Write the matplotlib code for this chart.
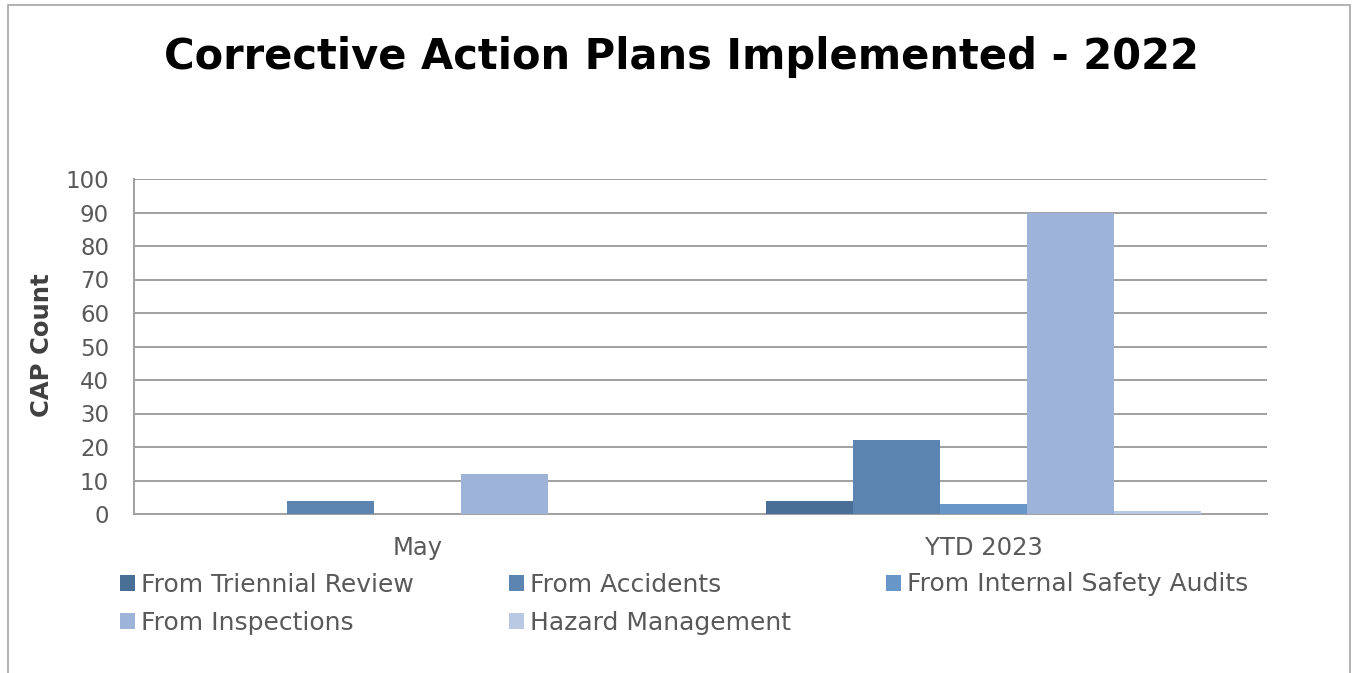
import numpy as np
import matplotlib.pyplot as plt
from matplotlib.patches import Rectangle

# chart data
categories = ["May", "YTD 2023"]
series_names = ["From Triennial Review", "From Accidents", "From Internal Safety Audits",
                "From Inspections", "Hazard Management"]
triennial = [0, 4]
accidents = [4, 22]
internal_audits = [0, 3]
inspections = [12, 90]
hazard = [0, 1]
y_ticks = [0, 10, 20, 30, 40, 50, 60, 70, 80, 90, 100]

colors = ["#4a6f96", "#5b84b1", "#6796c8", "#9db4d8", "#b9c9e3"]
series = [triennial, accidents, internal_audits, inspections, hazard]

plt.rcParams['font.family'] = ['DejaVu Sans']

fig = plt.figure(figsize=(13.54, 6.73), dpi=100)
W, H = 1354, 673
ax = fig.add_axes([134 / W, 1 - 514 / H, 1133 / W, 335 / H])

x = np.arange(len(categories))
bw = 87 / 566.5
handles = []
for i, (vals, col) in enumerate(zip(series, colors)):
	b = ax.bar(x + (i - 2) * bw, vals, width=bw, color=col, label=series_names[i], zorder=3)
	handles.append(b)

ax.set_xlim(-0.5, 1.5)
ax.set_ylim(0, 100)
ax.set_yticks(y_ticks)
ax.set_xticks(x)
ax.set_xticklabels(categories)
ax.tick_params(axis="both", length=0, colors="#595959", labelsize=16.5)
ax.tick_params(axis="x", labelsize=17.5)
ax.tick_params(axis="y", pad=18)
ax.tick_params(axis="x", pad=16)
ax.grid(axis="y", color="#a0a0a0", lw=1.4, zorder=0)
for s in ["top", "right"]:
	ax.spines[s].set_visible(False)
for s in ["left", "bottom"]:
	ax.spines[s].set_color("#a0a0a0")
	ax.spines[s].set_linewidth(1.4)

ax.set_ylabel("CAP Count", fontsize=17.5, fontweight="bold", color="#404040")
ax.yaxis.set_label_coords((54 - 134) / 1133, (514 - 345) / 335)

fig.text(681 / W, 1 - 57 / H, "Corrective Action Plans Implemented - 2022",
	ha="center", va="center", fontsize=30, fontweight="bold", color="black")

# legend, reordered so it reads row by row
order = [0, 3, 1, 4, 2]
leg = fig.legend([handles[k] for k in order], [series_names[k] for k in order],
	ncol=3, loc="upper left", bbox_to_anchor=(97 / W, 1 - 550 / H),
	frameon=False, fontsize=18, handlelength=0.6, handleheight=0.6,
	handletextpad=0.25, columnspacing=3.8, labelspacing=0.58, labelcolor="#595959")

# outer frame
fig.patches.append(Rectangle((8 / W, -0.01), (1350 - 8) / W, 1 - 5 / H + 0.01,
	transform=fig.transFigure, fill=False, edgecolor="#a6a6a6", lw=1.2))

fig.savefig("out.png", dpi=100)
